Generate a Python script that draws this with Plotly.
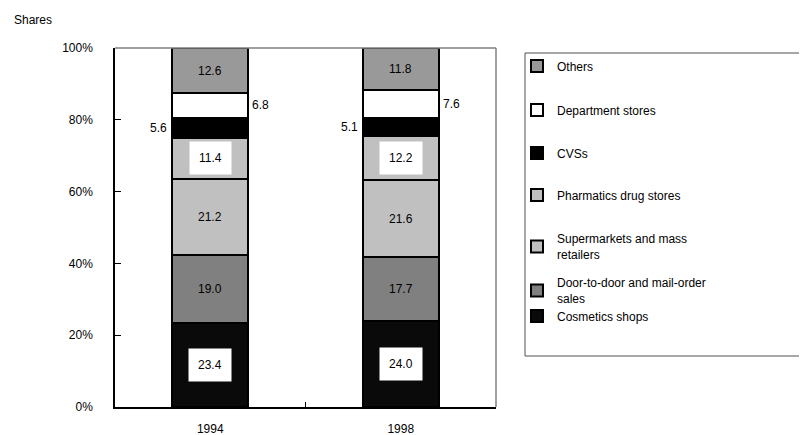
import plotly.graph_objects as go

years = ["1994", "1998"]
series_names = [
    "Cosmetics shops",
    "Door-to-door and mail-order<br>sales",
    "Supermarkets and mass<br>retailers",
    "Pharmatics drug stores",
    "CVSs",
    "Department stores",
    "Others",
]
cosmetics = [23.4, 24.0]
door_to_door = [19.0, 17.7]
supermarkets = [21.2, 21.6]
pharmatics = [11.4, 12.2]
cvss = [5.6, 5.1]
department = [6.8, 7.6]
others = [12.6, 11.8]
y_tick_vals = [0, 20, 40, 60, 80, 100]
y_tick_text = ["0%", "20%", "40%", "60%", "80%", "100%"]

series_values = [cosmetics, door_to_door, supermarkets, pharmatics, cvss, department, others]
colors = ["#0a0a0a", "#808080", "#c0c0c0", "#c0c0c0", "#000000", "#ffffff", "#999999"]
label_style = ["inbox", "in", "in", "inbox", "left", "right", "in"]
# vertical centre (page px) of each legend entry, same order as series
legend_centres = [316, 291, 247, 195, 153, 110, 66]

FONT = "Liberation Sans, Arial, sans-serif"
FS = 12

# figure geometry (page has an 8px body margin)
W, H = 807, 435
L, T = 107, 40
PW, PH = 381, 359

def px(xp):
    return (xp - 8 - L) / PW

def py(yp):
    return (T + PH - (yp - 8)) / PH

fig = go.Figure()
legends = {}
for i, (name, vals, col) in enumerate(zip(series_names, series_values, colors)):
    key = "legend" if i == 0 else f"legend{i + 1}"
    fig.add_trace(go.Bar(
        x=years, y=vals, name=name, legend=key,
        marker=dict(color=col, line=dict(color="#000000", width=2)),
        width=0.4,
    ))
    legends[key] = dict(
        x=px(517), y=py(legend_centres[i]), xanchor="left", yanchor="middle",
        font=dict(family=FONT, size=FS, color="#000000"),
        bgcolor="rgba(0,0,0,0)", borderwidth=0,
    )

annotations = []
for yi, yr in enumerate(years):
    base = 0.0
    for si, vals in enumerate(series_values):
        v = vals[yi]
        mid = base + v / 2
        st = label_style[si]
        a = dict(x=yi, y=mid, xref="x", yref="y", text=f"{v:.1f}", showarrow=False,
                 font=dict(family=FONT, size=FS, color="#000000"))
        if st == "inbox":
            a.update(bgcolor="#ffffff", borderpad=9)
        elif st == "left":
            a.update(xanchor="right", xshift=-41)
        elif st == "right":
            a.update(xanchor="left", xshift=40)
        annotations.append(a)
        base += v

annotations.append(dict(x=px(12), y=py(20), xref="paper", yref="paper", text="Shares",
                        showarrow=False, xanchor="left", yanchor="middle",
                        font=dict(family=FONT, size=FS, color="#000000")))

box_l, box_r, box_t, box_b = px(525), px(900), py(53), py(356)
BOX = "#505050"

fig.update_layout(
    width=W, height=H,
    template="none",
    paper_bgcolor="#ffffff", plot_bgcolor="#ffffff",
    margin=dict(l=L, r=W - L - PW, t=T, b=H - T - PH, autoexpand=False),
    barmode="stack",
    showlegend=True,
    annotations=annotations,
    shapes=[
        dict(type="line", xref="paper", yref="paper", x0=0, x1=1, y0=1, y1=1,
             line=dict(color="#808080", width=1.5)),
        dict(type="line", xref="paper", yref="paper", x0=1, x1=1, y0=0, y1=1,
             line=dict(color="#808080", width=1.5)),
        dict(type="line", xref="x", yref="paper", x0=0.5, x1=0.5, y0=0, y1=5 / PH,
             line=dict(color="#000000", width=1)),
        dict(type="line", xref="paper", yref="paper", x0=box_l, x1=box_r, y0=box_t, y1=box_t,
             line=dict(color=BOX, width=1)),
        dict(type="line", xref="paper", yref="paper", x0=box_l, x1=box_r, y0=box_b, y1=box_b,
             line=dict(color=BOX, width=1)),
        dict(type="line", xref="paper", yref="paper", x0=box_l, x1=box_l, y0=box_b, y1=box_t,
             line=dict(color=BOX, width=1)),
    ],
    xaxis=dict(
        type="category", showgrid=False, showline=True, linecolor="#000000", linewidth=1.5,
        ticks="", range=[-0.5, 1.5], ticklabelstandoff=10,
        tickfont=dict(family=FONT, size=FS, color="#000000"),
        automargin=False, zeroline=False,
    ),
    yaxis=dict(
        range=[0, 100], tickvals=y_tick_vals, ticktext=y_tick_text,
        showgrid=False, showline=True, linecolor="#000000", linewidth=1.5,
        ticks="inside", ticklen=6, tickcolor="#000000", ticklabelstandoff=18,
        tickfont=dict(family=FONT, size=FS, color="#000000"),
        automargin=False, zeroline=False,
    ),
    **legends,
)

fig.write_html("out.html")
